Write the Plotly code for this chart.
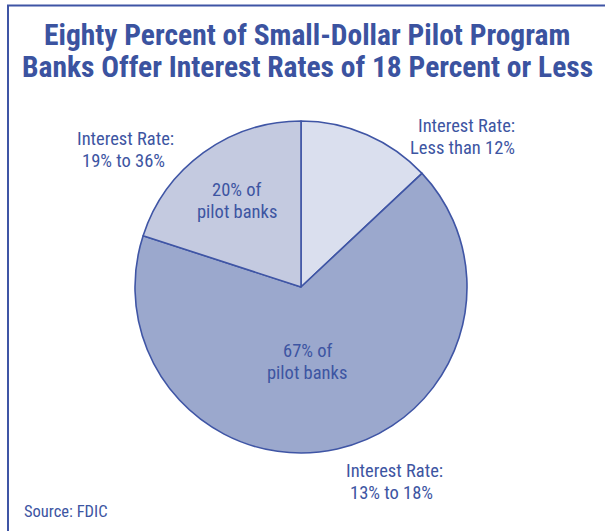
import plotly.graph_objects as go

W, H = 605, 531

categories = ["Interest Rate: Less than 12%", "Interest Rate: 13% to 18%", "Interest Rate: 19% to 36%"]
values = [13, 67, 20]
slice_colors = ["#dadfee", "#9ba8cd", "#c4cae0"]

title_lines = ["Eighty Percent of Small-Dollar Pilot Program",
               "Banks Offer Interest Rates of 18 Percent or Less"]
outer_labels = [["Interest Rate:", "Less than 12%"],
                ["Interest Rate:", "13% to 18%"],
                ["Interest Rate:", "19% to 36%"]]
inner_labels = [None, ["67% of", "pilot banks"], ["20% of", "pilot banks"]]
source_text = "Source: FDIC"

FONT = "Roboto Condensed, DejaVu Sans Condensed, sans-serif"
TXT = "#3d55a2"
LINE = "#3f55a5"

cx, cy, r = 301, 287, 166

def px(x):
    return x / W

def py(y):
    return 1 - y / H

fig = go.Figure(go.Pie(
    labels=categories, values=values, sort=False, direction="clockwise", rotation=0,
    marker=dict(colors=slice_colors, line=dict(color=LINE, width=1.6)),
    textinfo="none", hoverinfo="label+percent", showlegend=False,
    domain=dict(x=[px(cx - r), px(cx + r)], y=[py(cy + r), py(cy - r)]),
))

ann = []

def line_ann(text, x, baseline, size, anchor="center", bold=False, color=TXT):
    t = f"<b>{text}</b>" if bold else text
    ann.append(dict(text=t, x=px(x), y=py(baseline - 0.36 * size), xref="paper", yref="paper",
                    xanchor=anchor, yanchor="middle", showarrow=False,
                    font=dict(family=FONT, size=size, color=color)))

LS = 18.5
TS = 29.5
# title
line_ann(title_lines[0], 307, 46, TS, bold=True, color="#3b53a0")
line_ann(title_lines[1], 308, 77.5, TS, bold=True, color="#3b53a0")

# outer labels
line_ann(outer_labels[0][0], 517, 133, LS, anchor="right")
line_ann(outer_labels[0][1], 517, 155, LS, anchor="right")
line_ann(outer_labels[1][0], 394, 478, LS)
line_ann(outer_labels[1][1], 391, 500, LS)
line_ann(outer_labels[2][0], 125, 146, LS)
line_ann(outer_labels[2][1], 123, 168, LS)

# inner labels
line_ann(inner_labels[1][0], 308, 358, LS)
line_ann(inner_labels[1][1], 307, 380, LS)
line_ann(inner_labels[2][0], 237, 197, LS)
line_ann(inner_labels[2][1], 237, 219, LS)

# source
line_ann(source_text, 22, 517, 16.5, anchor="left")

shapes = [
    dict(type="line", xref="paper", yref="paper", x0=px(8), x1=px(8), y0=0, y1=py(5.5),
         line=dict(color=LINE, width=2)),
    dict(type="line", xref="paper", yref="paper", x0=px(7), x1=1, y0=py(5.5), y1=py(5.5),
         line=dict(color=LINE, width=2)),
]

fig.update_layout(
    width=W, height=H, margin=dict(l=0, r=0, t=0, b=0),
    paper_bgcolor="white", plot_bgcolor="white",
    annotations=ann, shapes=shapes,
)

fig.write_html("out.html", config={"displayModeBar": False},
               post_script="document.body.style.margin='0px';")
